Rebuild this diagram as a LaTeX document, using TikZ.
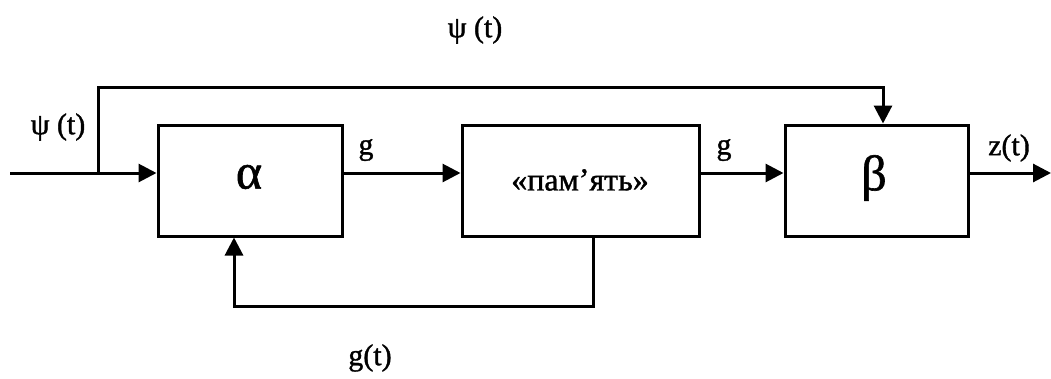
\documentclass[tikz,border=0pt]{standalone}
\usepackage{fontspec}
\setmainfont{Liberation Serif}
\newfontfamily\heavyserif[FakeBold=1.2]{Liberation Serif}
\usetikzlibrary{arrows.meta}
\begin{document}
\begin{tikzpicture}[x=1pt,y=-1pt,
  block/.style={draw,line width=3pt,minimum height=111pt,inner sep=0pt},
  conn/.style={line width=3pt},
  arr/.style={conn,-{Triangle[length=18pt,width=18pt]}},
  lbl/.style={inner sep=0pt,font=\heavyserif\fontsize{30}{36}\selectfont},
  greek/.style={inner sep=0pt,font=\heavyserif\fontsize{50}{56}\selectfont}]
\useasboundingbox (0,0) rectangle (1051,378);

% blocks
\node[block,minimum width=184pt] (a) at (250,180.5) {};
\node[block,minimum width=237pt] (m) at (580.5,180.5) {};
\node[block,minimum width=183pt] (b) at (876.5,180.5) {};
\node[greek] (atext) at (249,177) {α};
\node[greek] (btext) at (874,178) {β};
\node[lbl,font=\heavyserif\fontsize{32}{38}\selectfont] (mtext) at (580,180) {«пам’ять»};

% junction points of the signal lines
\coordinate (in) at (10,173);
\coordinate (br) at (98,173);
\coordinate (tp) at (883,87);
\coordinate (out) at (1051,173);
\coordinate (fbR) at (593,306);
\coordinate (fbL) at (234,306);

% forward path
\draw[arr] (in) -- (in -| a.west);
\draw[arr] (a.east |- in) -- (in -| m.west);
\draw[arr] (m.east |- in) -- (in -| b.west);
\draw[arr] (b.east |- in) -- (out);

% bypass of psi(t) to beta
\draw[arr] (br) |- (tp) -- (tp |- b.north);

% feedback from memory to alpha
\draw[arr] (fbR |- m.south) -- (fbR) -- (fbL) -- (fbL |- a.south);

% signal labels
\node[lbl] (psitop) at (475,30) {ψ (t)};
\node[lbl] (psiin) at (58,127) {ψ (t)};
\node[lbl] (g1) at (366,150) {g};
\node[lbl] (g2) at (724,150) {g};
\node[lbl] (z) at (1009,148) {z(t)};
\node[lbl] (gt) at (370,358) {g(t)};
\end{tikzpicture}
\end{document}
